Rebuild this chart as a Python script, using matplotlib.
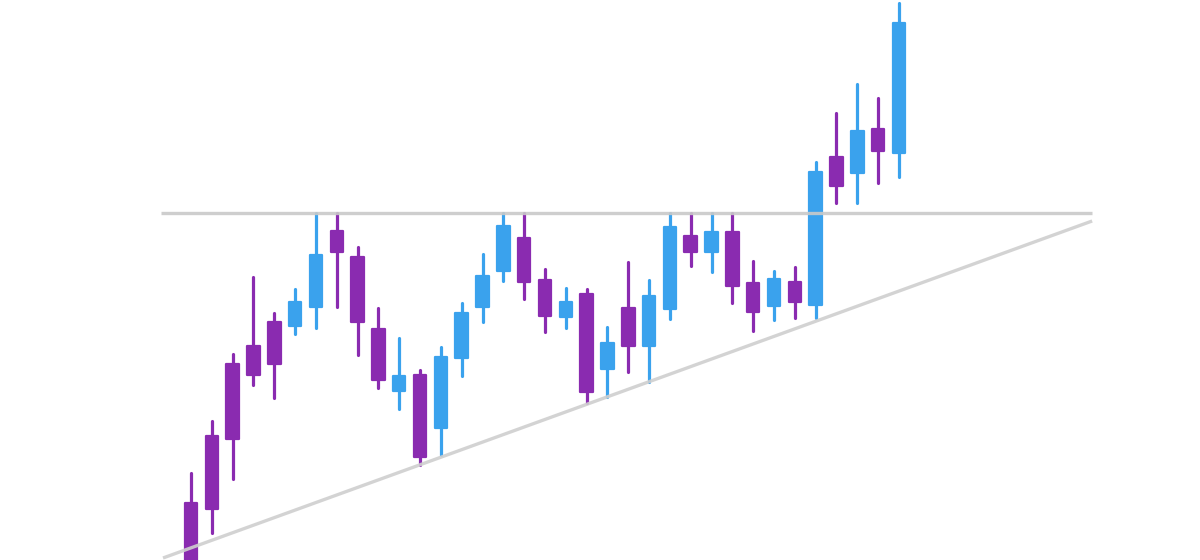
import numpy as np
import matplotlib
matplotlib.use("Agg")
import matplotlib.pyplot as plt

# candle data (ascending triangle breakout)
opens = [57, 124, 196, 214, 238, 234, 253, 329, 303, 231, 169, 185, 132, 202, 253,
         289, 322, 280, 243, 266, 191, 252, 214, 251, 324, 308, 328, 277, 254, 278,
         255, 403, 387, 431, 407]
highs = [87, 139, 206, 283, 247, 271, 347, 347, 313, 252, 222, 190, 213, 257, 306,
         347, 347, 291, 272, 271, 233, 298, 280, 347, 347, 347, 347, 299, 289, 293,
         398, 447, 476, 462, 557]
lows = [-20, 27, 81, 175, 162, 226, 232, 253, 205, 172, 151, 95, 105, 184, 238,
        279, 261, 228, 232, 157, 163, 188, 178, 241, 294, 288, 257, 229, 240, 242,
        242, 357, 357, 377, 383]
closes = [-8, 51, 121, 185, 196, 258, 305, 308, 238, 180, 184, 103, 203, 247, 284,
          334, 278, 244, 258, 168, 217, 214, 264, 333, 308, 328, 274, 248, 281, 258,
          388, 374, 429, 409, 537]

# pattern lines
resistance = 347
resistance_x = [-1.44, 43.28]
support_x = [-1.345, 43.28]
support_y = [2, 339]

up_color = '#3aa2ed'
down_color = '#8a2bb0'

opens = np.array(opens)
closes = np.array(closes)
highs = np.array(highs)
lows = np.array(lows)
x = np.arange(len(opens))
colors = [up_color if c >= o else down_color for o, c in zip(opens, closes)]

fig = plt.figure(figsize=(12, 5.6), dpi=100)
ax = fig.add_axes([0, 0, 1, 1])
ax.set_facecolor('white')

# wicks behind bodies
ax.vlines(x, lows, highs, colors=colors, linewidth=2.3, zorder=2, capstyle='round')

# bodies, thick round-joined edge gives softened corners
bottoms = np.minimum(opens, closes)
heights = np.abs(closes - opens)
bars = ax.bar(x, heights, bottom=bottoms, width=0.6, color=colors,
              edgecolor=colors, linewidth=1.6, zorder=3)
for b in bars:
    b.set_joinstyle('round')

# triangle lines on top
ax.plot(resistance_x, [resistance, resistance], color='#c9c9c9', linewidth=2.4,
        alpha=0.9, zorder=4, solid_capstyle='butt')
ax.plot(support_x, support_y, color='#cfcfcf', linewidth=2.4,
        alpha=0.9, zorder=4, solid_capstyle='butt')

ax.set_xlim(-9.174, 48.46)
ax.set_ylim(0, 560)
ax.axis('off')

fig.savefig('out.png', dpi=100, facecolor='white')
